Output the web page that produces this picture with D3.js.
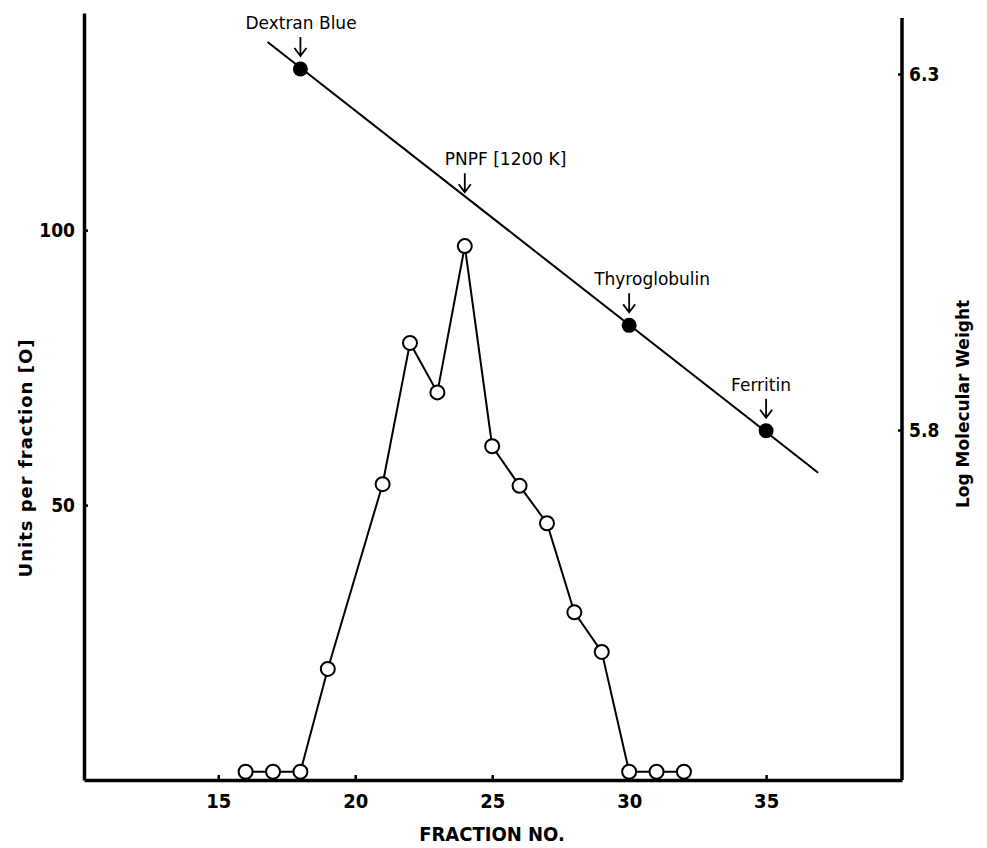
<!DOCTYPE html>
<html>
<head>
<meta charset="utf-8">
<script src="https://d3js.org/d3.v7.min.js"></script>
<style>
body{margin:0;background:#fff}
text{font-family:"DejaVu Sans",sans-serif;fill:#000}
</style>
</head>
<body>
<svg width="987" height="848"></svg>
<script>
// data
var fractions = [16,17,18,19,21,22,23,24,25,26,27,28,29,30,31,32];
var units = [1.5,1.5,1.5,20.2,53.8,79.5,70.5,97.1,60.7,53.5,46.7,30.5,23.3,1.5,1.5,1.5];
var markerNames = ["Dextran Blue","PNPF [1200 K]","Thyroglobulin","Ferritin"];
var markerFractions = [18,24,30,35];
var markerLogMW = [6.307,null,5.947,5.799];   // null =
var calibFractions = [16.8,36.9];
var calibLogMW = [6.345,5.740];
var xTicks = [15,20,25,30,35];
var yTicks = [50,100];
var y2Ticks = [5.8,6.3];

var svg = d3.select("svg");

var x = d3.scaleLinear().domain([10.1,39.96]).range([84,902]);
var y = d3.scaleLinear().domain([0,139.5]).range([780,13]);
var y2 = d3.scaleLinear().domain([5.3084,6.3857]).range([780,13]);
var calib = d3.scaleLinear().domain(calibFractions).range(calibLogMW);

// axes
var gx = svg.append("g").attr("transform","translate(0,780)")
    .call(d3.axisBottom(x).tickValues(xTicks).tickSize(-5).tickSizeOuter(0).tickPadding(14));
var gy = svg.append("g").attr("transform","translate(84,0)")
    .call(d3.axisLeft(y).tickValues(yTicks).tickSize(-4).tickSizeOuter(0).tickPadding(9));
var gy2 = svg.append("g").attr("transform","translate(902,0)")
    .call(d3.axisRight(y2).tickValues(y2Ticks).tickFormat(d3.format(".1f")).tickSize(-4).tickSizeOuter(0).tickPadding(7));
gy2.select(".domain").attr("d","M0,18V780");

svg.selectAll(".domain").attr("stroke","#000").attr("stroke-width",3.5);
svg.selectAll(".tick line").attr("stroke","#000").attr("stroke-width",2.5);
svg.selectAll(".tick text").style("font-size","19px").style("font-weight","bold")
    .style("font-family","'DejaVu Sans Condensed','Liberation Sans Narrow',sans-serif");
gx.selectAll(".tick text").style("font-size","20px");

// axis titles
svg.append("text").attr("x",492).attr("y",841)
    .attr("text-anchor","middle").style("font-size","20px").style("font-weight","bold")
    .style("font-family","'DejaVu Sans Condensed','Liberation Sans Narrow',sans-serif")
    .text("FRACTION NO.");
svg.append("text").attr("transform","translate(32,458) rotate(-90)")
    .attr("text-anchor","middle").style("font-size","18px").style("font-weight","bold")
    .style("letter-spacing","1px")
    .text("Units per fraction [O]");
svg.append("text").attr("transform","translate(969,404) rotate(-90)")
    .attr("text-anchor","middle").style("font-size","17px").style("font-weight","bold")
    .text("Log Molecular Weight");

// calibration line
svg.append("line")
    .attr("x1",x(calibFractions[0])).attr("y1",y2(calibLogMW[0]))
    .attr("x2",x(calibFractions[1])).attr("y2",y2(calibLogMW[1]))
    .attr("stroke","#000").attr("stroke-width",2);

// activity profile
var line = d3.line().x(function(d,i){return x(fractions[i]);}).y(function(d){return y(d);});
svg.append("path").datum(units).attr("d",line)
    .attr("fill","none").attr("stroke","#000").attr("stroke-width",2);
svg.selectAll(".pt").data(units).enter().append("circle").attr("class","pt")
    .attr("cx",function(d,i){return x(fractions[i]);})
    .attr("cy",function(d){return y(d);})
    .attr("r",7).attr("fill","#fff").attr("stroke","#000").attr("stroke-width",2);

// markers with arrows
var labelDx = [-55,-20,-35,-35];
markerNames.forEach(function(name,i){
    var f = markerFractions[i];
    var hasDot = markerLogMW[i] !== null;
    var v = hasDot ? markerLogMW[i] : calib(f);
    var cx = x(f), cy = y2(v);
    if (hasDot) {
        svg.append("circle").attr("cx",cx).attr("cy",cy).attr("r",7.5).attr("fill","#000");
    }
    var tip = cy - (hasDot ? 13 : 4);
    var top = tip - 19;
    svg.append("path")
        .attr("d","M"+cx+","+top+"V"+tip+"M"+(cx-6)+","+(tip-8)+"L"+cx+","+tip+"L"+(cx+6)+","+(tip-8))
        .attr("fill","none").attr("stroke","#000").attr("stroke-width",1.8);
    svg.append("text").attr("x",cx+labelDx[i]).attr("y",tip-27)
        .style("font-size","17px").text(name);
});
</script>
</body>
</html>
